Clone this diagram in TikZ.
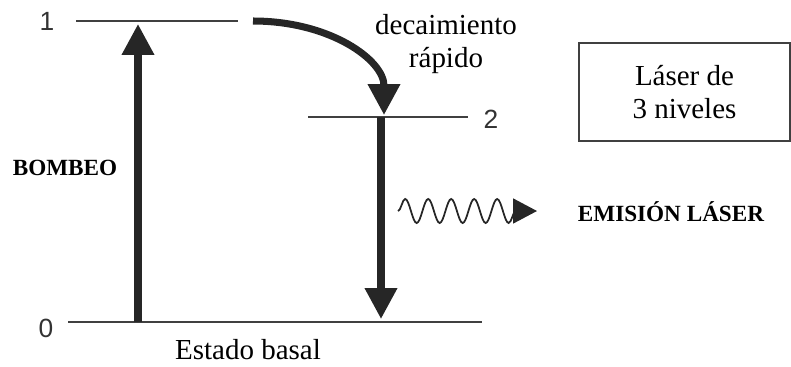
\documentclass[tikz,border=0pt]{standalone}
\usepackage{fontspec}
\setmainfont{Liberation Serif}
\newfontfamily\numfont{Liberation Sans}
\usetikzlibrary{positioning,arrows.meta,decorations.pathmorphing}

\begin{document}
\begin{tikzpicture}[x=0.02cm,y=-0.02cm,
    level/.style={draw=black!75, line width=0.7pt},
    transition/.style={draw=black!85, line width=4pt, -{Triangle[length=0.62cm,width=0.62cm]}},
    wave/.style={draw=black!85, line width=1pt, decorate,
        decoration={snake,amplitude=0.24cm,segment length=0.46cm,post length=0.24cm},
        -{Triangle[length=0.48cm,width=0.5cm]}},
    lvlnum/.style={font=\numfont\fontsize{15}{17}\selectfont, text=black!80},
    caption/.style={font=\fontsize{16.5}{19}\selectfont, align=center},
    tag/.style={font=\bfseries\fontsize{13.2}{15}\selectfont}
]
\useasboundingbox (0,0) rectangle (791,366);

% energy levels
\coordinate (e1w) at (76,21);
\coordinate (e1e) at (238,21);
\coordinate (e2w) at (308,117);
\coordinate (e2e) at (468,117);
\coordinate (e0w) at (68,322);
\coordinate (e0e) at (482,322);
\draw[level] (e1w) -- (e1e);
\draw[level] (e2w) -- (e2e);
\draw[level] (e0w) -- (e0e);

\node[lvlnum] (n1) at (47,21) {1};
\node[lvlnum] (n2) at (491,119) {2};
\node[lvlnum] (n0) at (46,328) {0};

% transitions
\coordinate (p0) at (138,322);
\coordinate (p1) at (138,24);
\coordinate (d2) at (381,117);
\coordinate (d0) at (381,319);
\coordinate (c1) at (253,21);
\coordinate (c2) at (384,115);
\draw[transition] (p0) -- (p1);
\draw[transition] (d2) -- (d0);
\draw[transition] (c1) .. controls (330,21) and (384,60) .. (c2);

% labels
\node[caption] (decay) at (446,44) {decaimiento\\rápido};
\node[tag] (pump) at (65,168) {BOMBEO};
\node[tag] (emit) at (671,212) {EMISIÓN LÁSER};
\node[caption] (basal) at (248,350) {Estado basal};
\node[caption, draw=black!75, line width=1pt, minimum width=4.22cm, minimum height=1.96cm] (box) at (684.5,92) {Láser de\\3 niveles};

% emitted photon
\coordinate (w0) at (398,211);
\coordinate (w1) at (537,211);
\draw[wave] (w0) -- (w1);

\end{tikzpicture}
\end{document}
